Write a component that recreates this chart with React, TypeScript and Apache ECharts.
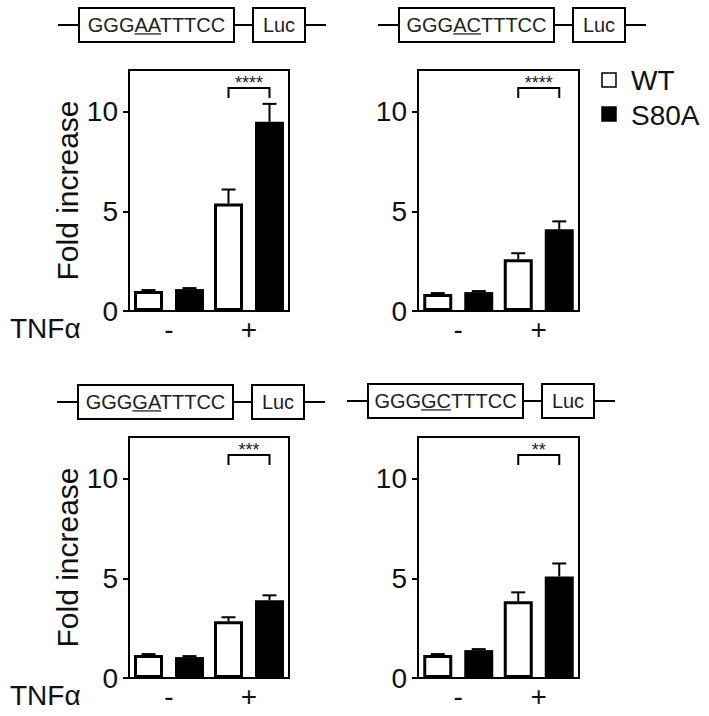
import React, { useEffect, useRef } from "react";
import * as echarts from "echarts";

const FONT = "Liberation Sans, Arial, Helvetica, sans-serif";

// ---- data ----
const categories = ["-", "+"];
const seriesNames = ["WT", "S80A"];
const sequences = ["GGGAATTTCC", "GGGACTTTCC", "GGGGATTTCC", "GGGGCTTTCC"];
const underlineStart = [3, 3, 3, 3];
const underlineLen = [2, 2, 2, 2];

const wtMeans = [
  [1.0, 5.4],
  [0.85, 2.6],
  [1.15, 2.85],
  [1.15, 3.85],
];
const wtSem = [
  [0.05, 0.7],
  [0.05, 0.3],
  [0.05, 0.2],
  [0.05, 0.45],
];
const s80aMeans = [
  [1.1, 9.5],
  [0.95, 4.1],
  [1.05, 3.9],
  [1.4, 5.1],
];
const s80aSem = [
  [0.05, 0.9],
  [0.05, 0.4],
  [0.05, 0.25],
  [0.05, 0.65],
];
const stars = ["****", "****", "***", "**"];
const bracketTop = 11.2;
const bracketFoot = 10.7;
const yTicks = [0, 5, 10];
const yMax = 12.1;

// ---- layout ----
const grids = [
  { left: 129, top: 70, width: 160, height: 241 },
  { left: 418, top: 70, width: 161, height: 241 },
  { left: 129, top: 437, width: 160, height: 241 },
  { left: 418, top: 437, width: 161, height: 241 },
];
const constructPos = [
  [58, 8],
  [378, 8],
  [57, 385],
  [347, 384],
];
const BAR_W = 29;
const BAR_GAP_PX = 12;
const BAR_OFFSET = (BAR_W + BAR_GAP_PX) / 2;

function measure(text: string, size: number) {
  const c = document.createElement("canvas").getContext("2d");
  if (!c) return text.length * size * 0.65;
  c.font = `${size}px ${FONT}`;
  return c.measureText(text).width;
}

function construct(i: number): any[] {
  const [x0, y0] = constructPos[i];
  const h = 34;
  const boxW = 155;
  const lucW = 52;
  const lead = 21;
  const mid = 19;
  const cy = y0 + h / 2;
  const fs = 20;
  const lw = 2;
  const boxX = x0 + lead;
  const lucX = boxX + boxW + mid;
  const endX = lucX + lucW + 21;
  const seq = sequences[i];
  const total = measure(seq, fs);
  const cx = boxX + boxW / 2;
  const left = cx - total / 2;
  const u0 = left + measure(seq.slice(0, underlineStart[i]), fs);
  const u1 = left + measure(seq.slice(0, underlineStart[i] + underlineLen[i]), fs);
  const baseline = cy + 0.3465 * fs;
  const st = { stroke: "#000", lineWidth: lw, fill: "none" };
  return [
    { type: "line", shape: { x1: x0, y1: cy, x2: boxX, y2: cy }, style: st },
    { type: "rect", shape: { x: boxX, y: y0, width: boxW, height: h }, style: { ...st, fill: "#fff" } },
    { type: "line", shape: { x1: boxX + boxW, y1: cy, x2: lucX, y2: cy }, style: st },
    { type: "rect", shape: { x: lucX, y: y0, width: lucW, height: h }, style: { ...st, fill: "#fff" } },
    { type: "line", shape: { x1: lucX + lucW, y1: cy, x2: endX, y2: cy }, style: st },
    {
      type: "text",
      x: cx,
      y: cy,
      style: { text: seq, fill: "#222", font: `${fs}px ${FONT}`, align: "center", verticalAlign: "middle" },
    },
    {
      type: "line",
      shape: { x1: u0, y1: baseline + 2, x2: u1, y2: baseline + 2 },
      style: { stroke: "#222", lineWidth: 1.3 },
    },
    {
      type: "text",
      x: lucX + lucW / 2,
      y: cy,
      style: { text: "Luc", fill: "#222", font: `${fs}px ${FONT}`, align: "center", verticalAlign: "middle" },
    },
  ];
}

export default function App() {
  const ref = useRef<HTMLDivElement>(null);
  useEffect(() => {
    if (!ref.current) return;
    const chart = echarts.init(ref.current, undefined, { renderer: "svg" });

    const xAxis: any[] = [];
    const yAxis: any[] = [];
    const series: any[] = [];

    grids.forEach((g, i) => {
      const showName = i % 2 === 0;
      xAxis.push({
        type: "category",
        gridIndex: i,
        data: categories,
        axisLine: { show: true, lineStyle: { color: "#000", width: 2 } },
        axisTick: { show: false },
        axisLabel: { color: "#111", fontSize: 28, fontFamily: FONT, margin: 4 },
        splitLine: { show: false },
      });
      yAxis.push({
        type: "value",
        gridIndex: i,
        min: 0,
        max: yMax,
        interval: 5,
        name: showName ? "Fold increase" : "",
        nameLocation: "middle",
        nameGap: 45,
        nameTextStyle: { color: "#111", fontSize: 30, fontFamily: FONT },
        axisLine: { show: true, lineStyle: { color: "#000", width: 2 } },
        axisTick: { show: true, length: 6, lineStyle: { color: "#000", width: 2 }, customValues: yTicks },
        axisLabel: { color: "#111", fontSize: 28, fontFamily: FONT, margin: 11, customValues: yTicks },
        splitLine: { show: false },
      });
      series.push({
        name: seriesNames[0],
        type: "bar",
        xAxisIndex: i,
        yAxisIndex: i,
        data: wtMeans[i],
        barWidth: BAR_W,
        barGap: `${(BAR_GAP_PX / BAR_W) * 100}%`,
        itemStyle: { color: "#fff", borderColor: "#000", borderWidth: 3 },
        silent: true,
      });
      series.push({
        name: seriesNames[1],
        type: "bar",
        xAxisIndex: i,
        yAxisIndex: i,
        data: s80aMeans[i],
        barWidth: BAR_W,
        barGap: `${(BAR_GAP_PX / BAR_W) * 100}%`,
        itemStyle: { color: "#000", borderColor: "#000", borderWidth: 0 },
        silent: true,
      });
      const errData: number[][] = [];
      categories.forEach((_, c) => {
        errData.push([c, wtMeans[i][c], wtMeans[i][c] + wtSem[i][c], -1]);
        errData.push([c, s80aMeans[i][c], s80aMeans[i][c] + s80aSem[i][c], 1]);
      });
      series.push({
        type: "custom",
        xAxisIndex: i,
        yAxisIndex: i,
        data: errData,
        silent: true,
        z: 5,
        renderItem: (_p: any, api: any) => {
          const c = api.value(0);
          const p0 = api.coord([c, api.value(1)]);
          const p1 = api.coord([c, api.value(2)]);
          const x = p0[0] + api.value(3) * BAR_OFFSET;
          const st = { stroke: "#000", lineWidth: 2 };
          return {
            type: "group",
            children: [
              { type: "line", shape: { x1: x, y1: p0[1], x2: x, y2: p1[1] }, style: st },
              { type: "line", shape: { x1: x - 7, y1: p1[1], x2: x + 7, y2: p1[1] }, style: st },
            ],
          };
        },
      });
      series.push({
        type: "custom",
        xAxisIndex: i,
        yAxisIndex: i,
        data: [[1, bracketTop, bracketFoot]],
        silent: true,
        z: 5,
        renderItem: (_p: any, api: any) => {
          const c = api.value(0);
          const pt = api.coord([c, api.value(1)]);
          const pf = api.coord([c, api.value(2)]);
          const xl = pt[0] - BAR_OFFSET;
          const xr = pt[0] + BAR_OFFSET;
          return {
            type: "group",
            children: [
              {
                type: "polyline",
                shape: { points: [[xl, pf[1]], [xl, pt[1]], [xr, pt[1]], [xr, pf[1]]] },
                style: { stroke: "#000", lineWidth: 2, fill: "none" },
              },
              {
                type: "text",
                x: pt[0],
                y: pt[1] - 5,
                style: {
                  text: stars[i],
                  fill: "#222",
                  font: `18px ${FONT}`,
                  align: "center",
                  verticalAlign: "middle",
                },
              },
            ],
          };
        },
      });
    });

    const graphics: any[] = [];
    sequences.forEach((_, i) => graphics.push(...construct(i)));
    // legend
    graphics.push(
      { type: "rect", shape: { x: 602, y: 73, width: 14, height: 14 }, style: { fill: "#fff", stroke: "#000", lineWidth: 1.5 } },
      { type: "text", x: 631, y: 80.5, style: { text: seriesNames[0], fill: "#111", font: `28px ${FONT}`, verticalAlign: "middle" } },
      { type: "rect", shape: { x: 602, y: 107, width: 14, height: 14 }, style: { fill: "#000", stroke: "#000", lineWidth: 1.5 } },
      { type: "text", x: 631, y: 115, style: { text: seriesNames[1], fill: "#111", font: `28px ${FONT}`, verticalAlign: "middle" } },
      { type: "text", x: 10, y: 328, style: { text: "TNFα", fill: "#111", font: `28px ${FONT}`, verticalAlign: "middle" } },
      { type: "text", x: 10, y: 695, style: { text: "TNFα", fill: "#111", font: `28px ${FONT}`, verticalAlign: "middle" } }
    );

    chart.setOption({
      animation: false,
      backgroundColor: "#fff",
      grid: grids.map((g) => ({ ...g, show: true, borderColor: "#000", borderWidth: 2, backgroundColor: "transparent", containLabel: false })),
      xAxis,
      yAxis,
      series,
      graphic: graphics,
    });
    return () => chart.dispose();
  }, []);
  return <div ref={ref} style={{ position: "absolute", left: 0, top: 0, width: 709, height: 716 }} />;
}
